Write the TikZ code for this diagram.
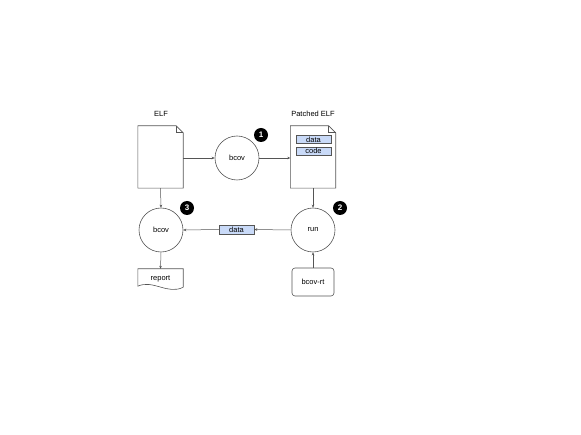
\documentclass[tikz,border=0pt]{standalone}
\usepackage{fontspec}
\setmainfont{Liberation Sans}
\usetikzlibrary{arrows.meta}
\definecolor{ln}{HTML}{555555}
\definecolor{boxfill}{HTML}{C9DAF8}
\tikzset{
  lbl/.style={font=\fontsize{7.5}{9}\selectfont},
  docnode/.style={minimum width=45pt, minimum height=62pt, inner sep=0pt},
  circ/.style={circle, draw=ln, line width=0.6pt, minimum size=44pt, inner sep=0pt, font=\fontsize{7.5}{9}\selectfont},
  badge/.style={circle, fill=black, text=white, minimum size=14pt, inner sep=0pt, font=\bfseries\fontsize{8}{9}\selectfont},
  databox/.style={draw=ln, fill=boxfill, line width=0.5pt, inner sep=0pt, font=\fontsize{7.5}{9}\selectfont},
  conn/.style={draw=ln, line width=0.5pt, -{Stealth[length=3pt,width=2.6pt]}},
  rt/.style={draw=ln, rounded corners=3pt, line width=0.6pt, minimum width=42pt, minimum height=28pt, inner sep=0pt, font=\fontsize{7.5}{9}\selectfont},
}
\begin{document}
\begin{tikzpicture}[x=1pt,y=-1pt]
\useasboundingbox (0,0) rectangle (581,435);
% ELF doc
\node[docnode] (elf) at (160.5,157) {};
\draw[ln, line width=0.6pt] (elf.north west) -- ([xshift=-7pt]elf.north east) -- ([yshift=-7pt]elf.north east) -- (elf.south east) -- (elf.south west) -- cycle;
\draw[ln, line width=0.6pt] ([xshift=-7pt]elf.north east) -- ([xshift=-7pt,yshift=-7pt]elf.north east) -- ([yshift=-7pt]elf.north east);
\node[lbl] (elfl) at (161,114) {ELF};
% Patched doc
\node[docnode] (pel) at (313,157) {};
\draw[ln, line width=0.6pt] (pel.north west) -- ([xshift=-7pt]pel.north east) -- ([yshift=-7pt]pel.north east) -- (pel.south east) -- (pel.south west) -- cycle;
\draw[ln, line width=0.6pt] ([xshift=-7pt]pel.north east) -- ([xshift=-7pt,yshift=-7pt]pel.north east) -- ([yshift=-7pt]pel.north east);
\node[lbl] (pell) at (313,114) {Patched ELF};
\node[databox, minimum width=35pt, minimum height=8pt] (pdata) at (313.5,139.5) {data};
\node[databox, minimum width=35pt, minimum height=8pt] (pcode) at (313.5,151) {code};
% circles
\node[circ] (bcov1) at (237,158) {bcov};
\node[circ] (bcov2) at (161,230) {bcov};
\node[circ] (run) at (313,230) {run};
% badges
\node[badge] (b1) at (261,135) {1};
\node[badge] (b2) at (340,208) {2};
\node[badge] (b3) at (187,208) {3};
% data box
\node[databox, minimum width=35pt, minimum height=9pt] (data) at (236.5,229.5) {data};
% report
\node[lbl, minimum width=45pt, minimum height=20pt, inner sep=0pt] (rep) at (160.5,279) {report};
\draw[ln, line width=0.6pt] ([yshift=2pt]rep.south east) -- (rep.north east) -- (rep.north west) -- ([yshift=3pt]rep.south west)
  .. controls ([xshift=15pt,yshift=10pt]rep.south west) and ([xshift=-15pt,yshift=-6pt]rep.south east) .. ([yshift=2pt]rep.south east);
% bcov-rt
\node[rt] (brt) at (313,282) {bcov-rt};
% connectors
\draw[conn] (elf.east |- bcov1) -- (bcov1.west);
\draw[conn] (bcov1.east) -- (pel.west |- bcov1);
\draw[conn] (elf.south) -- (bcov2.north);
\draw[conn] (pel.south) -- (run.north);
\draw[conn] (run.west) -- (data.east);
\draw[conn] (data.west) -- (bcov2.east);
\draw[conn] (bcov2.south) -- (rep.north);
\draw[conn] (brt.north) -- (run.south);
\end{tikzpicture}
\end{document}
